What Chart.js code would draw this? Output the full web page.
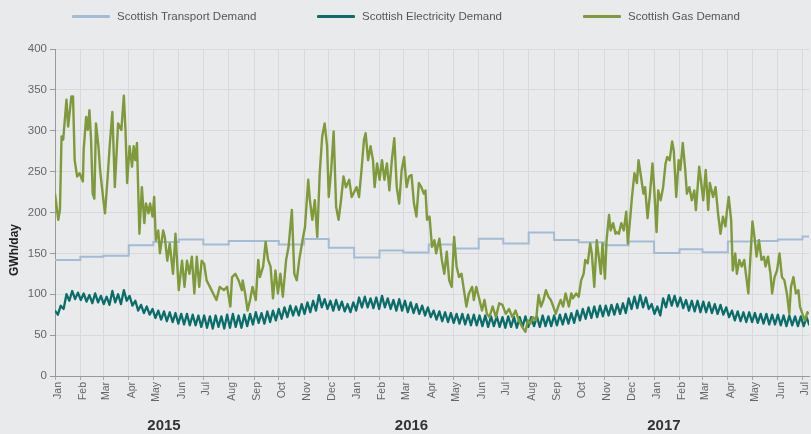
<!DOCTYPE html>
<html>
<head>
<meta charset="utf-8">
<script src="https://cdn.jsdelivr.net/npm/chart.js@4.4.1/dist/chart.umd.min.js"></script>
<style>
  body { margin: 0; background: #e9eaec; font-family: "Liberation Sans", Arial, sans-serif; }
  #wrap { position: relative; width: 811px; height: 434px; }
  #legend { position: absolute; left: 0; top: 0; width: 811px; height: 36px; }
  .lg-item { position: absolute; top: 10px; display: flex; align-items: center; gap: 7px; font-size: 11.5px; color: #555; }
  .lg-swatch { width: 38px; height: 3px; border-radius: 1px; }
</style>
</head>
<body>
<div id="wrap">
  <div id="legend"></div>
  <canvas id="demand-chart" width="811" height="434"></canvas>
</div>
<script>
// month ticks, days counted from 1 Jan 2015
const monthTickDays = [0, 31, 59, 90, 120, 151, 181, 212, 243, 273, 304, 334,
  365, 396, 425, 456, 486, 517, 547, 578, 609, 639, 670, 700,
  731, 762, 790, 821, 851, 882, 912];
const monthTickLabels = ['Jan', 'Feb', 'Mar', 'Apr', 'May', 'Jun', 'Jul', 'Aug', 'Sep', 'Oct', 'Nov', 'Dec',
  'Jan', 'Feb', 'Mar', 'Apr', 'May', 'Jun', 'Jul', 'Aug', 'Sep', 'Oct', 'Nov', 'Dec',
  'Jan', 'Feb', 'Mar', 'Apr', 'May', 'Jun', 'Jul'];
const yearLabels = ['2015', '2016', '2017'];
const yearLabelDays = [133, 435, 743];
const lastDay = 920;

const seriesNames = ['Scottish Transport Demand', 'Scottish Electricity Demand', 'Scottish Gas Demand'];
const seriesColors = ['#a3bcd3', '#0b6d69', '#7e9a3b'];

// monthly transport demand (one value per month, held as a step)
const transportValues = [142, 146, 147, 160, 164, 167, 161, 165, 165, 161, 167.5, 157,
  145, 153.5, 151, 161, 156, 168, 162, 175.5, 166.5, 163.5, 160, 164.5,
  150.5, 155, 151.5, 164.5, 165, 167, 170.5];

// electricity: weekday high / weekend low, every 3.5 days
const elecValues = [
  80, 75, 86, 82, 100, 92, 104, 94, 102, 93,
  101, 91, 99, 89, 101, 90, 98, 88,
  97, 87, 104, 90, 100, 88, 105, 92,
  98, 86, 92, 80, 87, 77, 85, 75,
  82, 71, 80, 69, 79, 67, 78, 66,
  77, 64, 76, 63, 76, 62, 75, 62, 74, 60,
  74, 59, 73, 58, 74, 60, 73, 58,
  75, 59, 76, 60, 74, 59, 75, 61,
  76, 63, 78, 65, 77, 64, 79, 66, 80, 68,
  82, 70, 84, 72, 86, 74, 85, 74,
  88, 76, 90, 78, 92, 80, 99, 84, 94, 82,
  92, 80, 93, 81, 91, 79, 88, 78,
  90, 80, 96, 84, 97, 84, 95, 83, 96, 82,
  98, 84, 95, 82, 93, 80, 94, 80,
  92, 78, 90, 77, 88, 76, 86, 74,
  84, 72, 80, 69, 79, 67, 78, 66,
  77, 65, 76, 64, 76, 63, 75, 62, 75, 62,
  74, 61, 74, 60, 73, 61, 73, 60,
  72, 59, 73, 60, 72, 59, 72, 60,
  73, 60, 72, 61, 73, 60, 74, 61, 73, 61,
  74, 62, 75, 63, 76, 64, 77, 65,
  80, 68, 82, 70, 84, 71, 85, 72, 86, 73,
  86, 74, 87, 75, 88, 76, 89, 77,
  95, 82, 97, 83, 99, 84, 96, 82,
  88, 76, 85, 74, 95, 84, 99, 86, 98, 85,
  96, 83, 93, 80, 92, 79, 92, 78,
  91, 78, 90, 77, 88, 76, 87, 75,
  84, 72, 80, 68, 79, 67, 78, 66, 78, 66,
  77, 65, 76, 64, 76, 63, 75, 63,
  75, 62, 74, 61, 74, 62, 73, 61,
  73, 61, 72, 62
];
const elecStepDays = 3.5;

// gas demand (day, GWh/day)
const gasDays = [0, 2, 4, 6, 8, 10, 14, 16, 20, 22, 24, 27, 30, 34, 35, 38, 40, 42, 44, 46, 48, 50, 53, 55, 59, 61, 64, 67, 70, 73,
  77, 81, 84, 86, 88, 91, 94, 96, 98, 100, 103, 106, 109, 111, 114, 116, 119, 121, 123, 126, 128, 132, 134, 137, 140, 144, 147,
  151, 155, 158, 161, 164, 167, 170, 173, 176, 179, 182, 185, 189, 193, 197, 201, 206, 210, 214, 216, 220, 224, 228,
  229, 232, 235, 238, 241, 245, 248, 250, 254, 257, 260, 263, 266, 269, 272, 275, 278, 282, 285, 289, 292, 295, 298,
  302, 305, 309, 311, 314, 317, 320, 323, 326, 329, 332, 334, 337, 340, 343, 346, 349, 352, 355, 359, 362, 364, 368,
  371, 374, 377, 379, 382, 385, 388, 390, 393, 396, 399, 402, 405, 408, 411, 414, 417, 420, 423, 426, 429, 432, 435,
  438, 441, 444, 447, 450,
  452, 454, 457, 460, 463, 465, 469, 472, 475, 478, 481, 484, 487, 490, 493, 496, 499, 502, 505, 509, 511, 514, 518,
  521, 524, 527, 530, 534, 538, 542, 546, 550, 554, 558, 562, 566, 570, 574, 577, 580, 583, 587, 590, 593, 596, 599,
  602, 605, 608, 611, 614, 617, 620, 623, 627, 630, 632, 636, 639, 642, 645, 647, 650, 653, 655, 658, 661, 663, 666,
  668, 671, 673, 676, 678, 681, 684,
  685, 688, 691, 694, 697, 699, 702, 704, 707, 710, 712, 715, 718, 720, 723, 726, 729, 731, 734, 736, 739, 742, 745,
  747, 750, 753, 755, 758, 761, 763, 766, 769, 771, 774, 777, 780, 782, 786, 788, 791, 794, 797, 799, 803, 806, 809,
  812, 815, 818, 820, 822, 825, 827, 830, 832, 835, 838, 841, 843, 846, 849, 851, 854, 856, 859, 862, 865, 867, 870,
  873, 875, 878, 881, 884, 887, 890, 893, 896, 898, 901, 904, 907, 909, 912, 915, 918, 920];
const gasValues = [223, 207, 191, 203, 293, 289, 338, 305, 342, 342, 264, 244, 248, 238, 277, 317, 301, 325, 289, 223, 217, 309, 281, 252, 215, 199, 240, 285, 323, 231,
  309, 301, 343, 301, 236, 281, 256, 281, 264, 285, 174, 231, 187, 211, 199, 211, 195, 219, 166, 178, 150, 178, 170, 141, 162, 125, 174,
  105, 141, 109, 141, 125, 146, 101, 146, 109, 141, 137, 117, 109, 101, 93, 109, 105, 109, 85, 121, 125, 117, 105,
  117, 101, 80, 93, 109, 93, 142, 121, 134, 164, 142, 134, 95, 129, 101, 125, 97, 142, 158, 203, 125, 117, 142,
  166, 182, 240, 215, 191, 215, 170, 248, 293, 309, 281, 219, 252, 299, 207, 191, 215, 244, 231, 240, 219, 223, 231,
  219, 252, 289, 297, 264, 281, 264, 231, 260, 240, 264, 240, 260, 227, 264, 291, 231, 211, 252, 268, 231, 244, 246,
  211, 195, 236, 231, 223,
  227, 191, 195, 158, 166, 150, 168, 142, 125, 152, 117, 109, 170, 134, 121, 125, 105, 85, 101, 109, 93, 109, 93,
  80, 93, 76, 72, 85, 72, 89, 87, 76, 82, 72, 80, 68, 60, 54, 68, 64, 72, 68, 99, 85, 93, 105,
  97, 93, 85, 76, 85, 93, 85, 101, 85, 101, 95, 101, 97, 117, 125, 142, 138, 162, 150, 109, 166, 150, 125,
  162, 119, 166, 197, 178, 187, 174,
  176, 174, 187, 178, 201, 162, 195, 219, 248, 236, 264, 244, 223, 231, 193, 223, 260, 231, 176, 227, 215, 231, 260,
  268, 264, 287, 276, 219, 264, 252, 285, 252, 223, 231, 215, 227, 203, 256, 240, 215, 252, 203, 236, 219, 231, 199,
  174, 195, 183, 203, 219, 191, 129, 150, 125, 142, 134, 142, 125, 101, 154, 189, 166, 146, 166, 142, 146, 134, 146,
  125, 101, 121, 129, 150, 121, 117, 101, 76, 109, 121, 101, 105, 85, 76, 68, 78, 76];

// legend
const legendLefts = [72, 317, 583];
const legendEl = document.getElementById('legend');
legendEl.innerHTML = seriesNames.map((name, i) => `
  <div class="lg-item" style="left: ${legendLefts[i]}px;">
    <span class="lg-swatch" style="background: ${seriesColors[i]};"></span>
    <span>${name}</span>
  </div>`).join('');

const transportPoints = monthTickDays.map((d, i) => ({ x: d, y: transportValues[i] }));
transportPoints.push({ x: lastDay, y: transportValues[transportValues.length - 1] });
const elecPoints = elecValues.map((v, i) => ({ x: i * elecStepDays, y: v }));
const gasPoints = gasDays.map((d, i) => ({ x: d, y: gasValues[i] }));

const extraText = {
  id: 'extraText',
  afterDraw(chart) {
    const { ctx } = chart;
    const x = chart.scales.x;
    ctx.save();
    ctx.fillStyle = '#333';
    ctx.font = 'bold 15px "Liberation Sans", Arial, sans-serif';
    ctx.textAlign = 'center';
    ctx.textBaseline = 'middle';
    yearLabels.forEach((t, i) => ctx.fillText(t, x.getPixelForValue(yearLabelDays[i]), 426));
    ctx.translate(15, 250);
    ctx.rotate(-Math.PI / 2);
    ctx.font = 'bold 12px "Liberation Sans", Arial, sans-serif';
    ctx.fillStyle = '#222';
    ctx.fillText('GWh/day', 0, 0);
    ctx.restore();
  }
};

const gridColor = '#d7d9dc';
const tickFont = { family: '"Liberation Sans", Arial, sans-serif', size: 10.5 };

new Chart(document.getElementById('demand-chart'), {
  type: 'line',
  data: {
    datasets: [
      // value of each month is held until the next month start
      { label: seriesNames[0], data: transportPoints, borderColor: seriesColors[0], borderWidth: 2, stepped: 'before', pointRadius: 0, order: 3 },
      { label: seriesNames[1], data: elecPoints, borderColor: seriesColors[1], borderWidth: 2.3, pointRadius: 0, borderJoinStyle: 'round', order: 2 },
      { label: seriesNames[2], data: gasPoints, borderColor: seriesColors[2], borderWidth: 2.4, pointRadius: 0, borderJoinStyle: 'round', order: 1 }
    ]
  },
  options: {
    responsive: false,
    animation: false,
    layout: { padding: { top: 49, right: 2, left: 0, bottom: 0 } },
    plugins: { legend: { display: false }, tooltip: { enabled: false } },
    scales: {
      x: {
        type: 'linear',
        min: 0,
        max: lastDay,
        afterBuildTicks: (scale) => { scale.ticks = monthTickDays.map((v) => ({ value: v })); },
        afterFit: (scale) => { scale.height = 58; scale.paddingLeft = 0; scale.paddingRight = 0; },
        grid: { color: gridColor, tickColor: '#aaa', tickLength: 4 },
        border: { color: '#999' },
        ticks: {
          autoSkip: false,
          maxRotation: 90,
          minRotation: 90,
          padding: 2,
          labelOffset: 3,
          color: '#666',
          font: tickFont,
          callback: (value) => monthTickLabels[monthTickDays.indexOf(value)]
        }
      },
      y: {
        min: 0,
        max: 400,
        afterFit: (scale) => { scale.width = 55; scale.paddingTop = 0; scale.paddingBottom = 0; },
        grid: { color: gridColor, tickColor: '#999', tickLength: 5 },
        border: { color: '#999' },
        ticks: { stepSize: 50, padding: 3, color: '#666', font: { family: '"Liberation Sans", Arial, sans-serif', size: 11.5 } }
      }
    }
  },
  plugins: [extraText]
});
</script>
</body>
</html>
